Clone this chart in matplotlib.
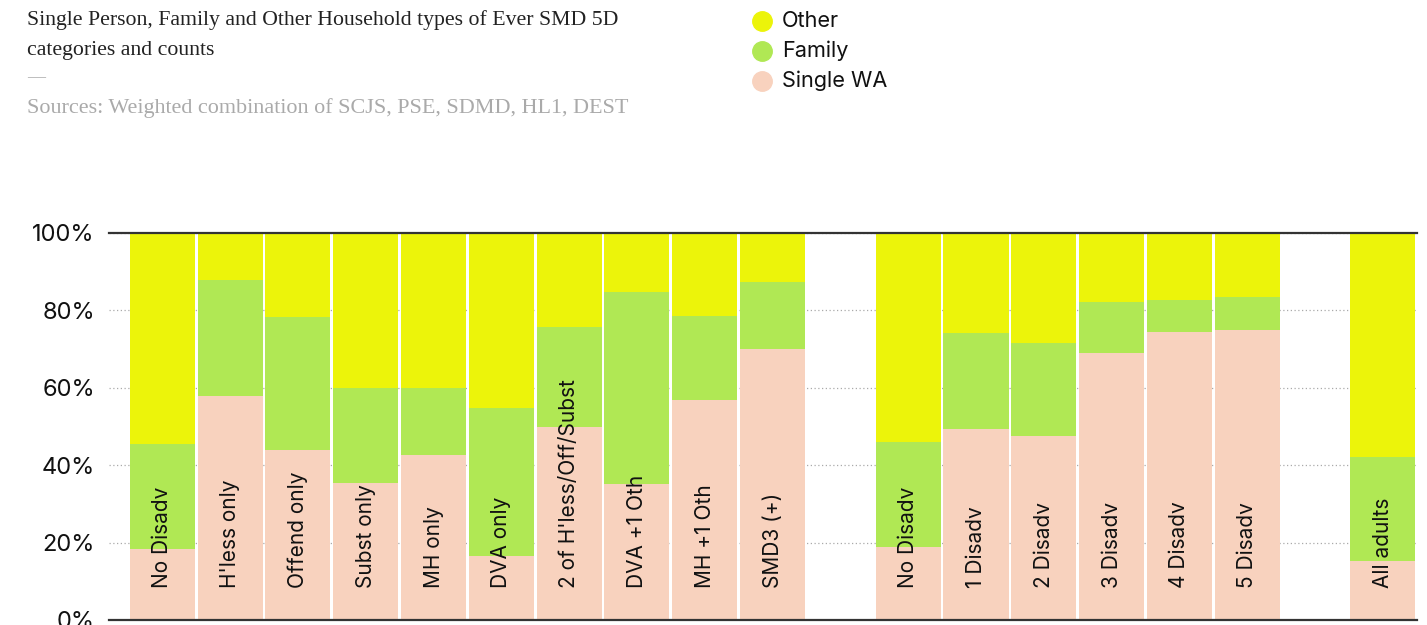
import matplotlib
matplotlib.use("Agg")
import matplotlib.pyplot as plt
import numpy as np
from matplotlib.lines import Line2D

categories = ["No Disadv", "H'less only", "Offend only", "Subst only", "MH only",
              "DVA only", "2 of H'less/Off/Subst", "DVA +1 Oth", "MH +1 Oth", "SMD3 (+)",
              "No Disadv", "1 Disadv", "2 Disadv", "3 Disadv", "4 Disadv", "5 Disadv",
              "All adults"]
positions = [0, 1, 2, 3, 4, 5, 6, 7, 8, 9, 11, 12, 13, 14, 15, 16, 18]
single_wa = [18.3, 57.9, 44.0, 35.3, 42.6, 16.5, 49.9, 35.2, 56.9, 70.1,
             18.9, 49.4, 47.6, 69.0, 74.5, 75.0, 15.3]
family = [27.2, 29.8, 34.2, 24.6, 17.3, 38.3, 25.9, 49.4, 21.7, 17.3,
          27.1, 24.8, 24.0, 13.2, 8.2, 8.5, 26.9]
other = [100 - s - f for s, f in zip(single_wa, family)]
yticks = [0, 20, 40, 60, 80, 100]
ytick_labels = ["0%", "20%", "40%", "60%", "80%", "100%"]

c_single = "#f8d2be"
c_family = "#b0e854"
c_other = "#ecf40a"

fig = plt.figure(figsize=(14.27, 6.25), dpi=100)
ax = fig.add_axes([0.0762, 0.008, 0.9166, 0.6194])

w = 0.96
bot2 = [s + f for s, f in zip(single_wa, family)]
ax.bar(positions, single_wa, width=w, color=c_single, zorder=2)
ax.bar(positions, family, bottom=single_wa, width=w, color=c_family, zorder=2)
ax.bar(positions, other, bottom=bot2, width=w, color=c_other, zorder=2)

for x, lab in zip(positions, categories):
    ax.text(x, 8.2, lab, rotation=90, rotation_mode="anchor", ha="left", va="center",
            fontsize=15, family="Inter", color="#111111", zorder=3)

ax.set_xlim(-0.79, 18.5)
ax.set_ylim(0, 100)
ax.set_xticks([])
ax.set_yticks(yticks)
ax.set_yticklabels(ytick_labels, family="Inter", fontsize=17, color="#111111")
ax.tick_params(axis="y", length=0, pad=10)
for sp in ["left", "right"]:
    ax.spines[sp].set_visible(False)
for sp in ["top", "bottom"]:
    ax.spines[sp].set_color("#333333")
    ax.spines[sp].set_linewidth(1.6)
ax.set_axisbelow(True)
ax.yaxis.grid(True, linestyle=(0, (1, 2)), color="#aaaaaa", linewidth=0.9)

fig.text(27 / 1427, 1 - 20 / 625, "Single Person, Family and Other Household types of Ever SMD 5D",
         family="Liberation Serif", fontsize=15.7, color="#222222", va="center", ha="left")
fig.text(27 / 1427, 1 - 50 / 625, "categories and counts",
         family="Liberation Serif", fontsize=15.7, color="#222222", va="center", ha="left")
fig.text(27 / 1427, 1 - 78 / 625, "—", family="Liberation Serif", fontsize=13,
         color="#aaaaaa", va="center", ha="left")
fig.text(27 / 1427, 1 - 108 / 625, "Sources: Weighted combination of SCJS, PSE, SDMD, HL1, DEST",
         family="Liberation Serif", fontsize=15.9, color="#aaaaaa", va="center", ha="left")

legend_items = [("Other", c_other), ("Family", c_family), ("Single WA", c_single)]
for i, (lab, col) in enumerate(legend_items):
    yy = 1 - (21 + 30 * i) / 625
    fig.add_artist(Line2D([762 / 1427], [yy], marker="o", markersize=14, color=col,
                          linestyle="none", transform=fig.transFigure))
    fig.text(782 / 1427, yy, lab, family="Inter", fontsize=15.6, color="#111111",
             va="center", ha="left")

fig.savefig("out.png", dpi=100)
